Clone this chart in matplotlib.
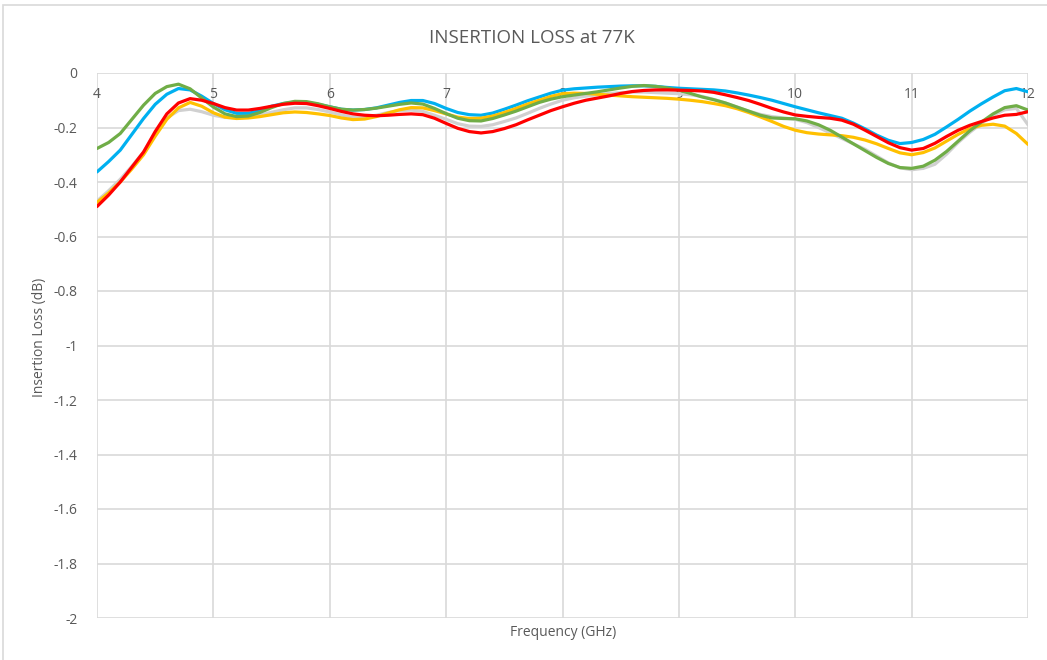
import matplotlib.pyplot as plt
from matplotlib.patches import Rectangle

# frequency points (GHz), 0.1 GHz apart
freq = [4.0, 4.1, 4.2, 4.3, 4.4, 4.5, 4.6, 4.7, 4.8, 4.9,
        5.0, 5.1, 5.2, 5.3, 5.4, 5.5, 5.6, 5.7, 5.8, 5.9,
        6.0, 6.1, 6.2, 6.3, 6.4, 6.5, 6.6, 6.7, 6.8, 6.9,
        7.0, 7.1, 7.2, 7.3, 7.4, 7.5, 7.6, 7.7, 7.8, 7.9,
        8.0, 8.1, 8.2, 8.3, 8.4, 8.5, 8.6, 8.7, 8.8, 8.9,
        9.0, 9.1, 9.2, 9.3, 9.4, 9.5, 9.6, 9.7, 9.8, 9.9,
        10.0, 10.1, 10.2, 10.3, 10.4, 10.5, 10.6, 10.7, 10.8, 10.9,
        11.0, 11.1, 11.2, 11.3, 11.4, 11.5, 11.6, 11.7, 11.8, 11.9, 12.0]

blue = [-0.363, -0.325, -0.283, -0.225, -0.167, -0.115, -0.078, -0.057, -0.062, -0.085,
        -0.112, -0.135, -0.148, -0.148, -0.138, -0.122, -0.112, -0.107, -0.108, -0.115,
        -0.124, -0.133, -0.136, -0.134, -0.128, -0.118, -0.108, -0.101, -0.101, -0.112,
        -0.130, -0.145, -0.153, -0.155, -0.147, -0.133, -0.118, -0.102, -0.088, -0.074,
        -0.063, -0.058, -0.055, -0.052, -0.050, -0.048, -0.047, -0.047, -0.049, -0.053,
        -0.056, -0.058, -0.060, -0.062, -0.066, -0.073, -0.081, -0.090, -0.100, -0.112,
        -0.124, -0.135, -0.146, -0.156, -0.166, -0.184, -0.205, -0.228, -0.247, -0.259,
        -0.255, -0.244, -0.225, -0.198, -0.170, -0.140, -0.113, -0.088, -0.065, -0.057, -0.069]

gray = [-0.470, -0.432, -0.390, -0.342, -0.290, -0.222, -0.165, -0.138, -0.133, -0.142,
        -0.155, -0.163, -0.165, -0.162, -0.155, -0.144, -0.135, -0.128, -0.128, -0.134,
        -0.143, -0.154, -0.162, -0.161, -0.155, -0.145, -0.138, -0.136, -0.141, -0.155,
        -0.170, -0.186, -0.195, -0.196, -0.190, -0.178, -0.165, -0.148, -0.130, -0.114,
        -0.100, -0.091, -0.085, -0.080, -0.075, -0.072, -0.070, -0.070, -0.072, -0.074,
        -0.076, -0.080, -0.086, -0.097, -0.110, -0.125, -0.140, -0.152, -0.160, -0.165,
        -0.170, -0.182, -0.200, -0.220, -0.240, -0.260, -0.280, -0.305, -0.330, -0.348,
        -0.355, -0.350, -0.335, -0.298, -0.255, -0.218, -0.185, -0.155, -0.135, -0.130, -0.190]

yellow = [-0.475, -0.440, -0.400, -0.352, -0.300, -0.232, -0.170, -0.128, -0.108, -0.122,
          -0.146, -0.162, -0.167, -0.165, -0.160, -0.153, -0.146, -0.143, -0.145, -0.150,
          -0.156, -0.165, -0.171, -0.169, -0.160, -0.147, -0.135, -0.127, -0.128, -0.138,
          -0.150, -0.162, -0.167, -0.166, -0.158, -0.145, -0.130, -0.114, -0.100, -0.086,
          -0.076, -0.074, -0.075, -0.078, -0.081, -0.084, -0.087, -0.089, -0.091, -0.093,
          -0.096, -0.100, -0.105, -0.112, -0.120, -0.131, -0.145, -0.161, -0.178, -0.196,
          -0.210, -0.219, -0.224, -0.227, -0.230, -0.236, -0.246, -0.260, -0.277, -0.293,
          -0.300, -0.292, -0.275, -0.250, -0.225, -0.204, -0.192, -0.188, -0.195, -0.222, -0.262]

green = [-0.277, -0.255, -0.222, -0.170, -0.118, -0.075, -0.050, -0.041, -0.058, -0.092,
         -0.125, -0.150, -0.160, -0.158, -0.145, -0.127, -0.112, -0.104, -0.105, -0.113,
         -0.124, -0.133, -0.136, -0.134, -0.129, -0.122, -0.115, -0.110, -0.114, -0.130,
         -0.149, -0.166, -0.175, -0.176, -0.167, -0.154, -0.140, -0.124, -0.108, -0.096,
         -0.087, -0.081, -0.075, -0.069, -0.062, -0.055, -0.049, -0.046, -0.049, -0.055,
         -0.063, -0.075, -0.088, -0.098, -0.110, -0.125, -0.140, -0.155, -0.165, -0.167,
         -0.168, -0.176, -0.190, -0.210, -0.235, -0.260, -0.285, -0.310, -0.332, -0.347,
         -0.350, -0.342, -0.320, -0.288, -0.250, -0.212, -0.180, -0.150, -0.127, -0.120, -0.136]

red = [-0.490, -0.448, -0.400, -0.345, -0.290, -0.215, -0.150, -0.110, -0.094, -0.100,
       -0.112, -0.127, -0.136, -0.136, -0.130, -0.122, -0.115, -0.111, -0.112, -0.120,
       -0.130, -0.141, -0.150, -0.155, -0.157, -0.155, -0.152, -0.150, -0.153, -0.166,
       -0.185, -0.203, -0.215, -0.220, -0.215, -0.204, -0.190, -0.172, -0.155, -0.138,
       -0.124, -0.111, -0.100, -0.092, -0.084, -0.075, -0.068, -0.064, -0.062, -0.062,
       -0.063, -0.064, -0.066, -0.071, -0.080, -0.090, -0.101, -0.115, -0.130, -0.143,
       -0.154, -0.159, -0.163, -0.166, -0.173, -0.188, -0.210, -0.233, -0.256, -0.274,
       -0.283, -0.277, -0.258, -0.233, -0.210, -0.192, -0.178, -0.165, -0.155, -0.152, -0.142]

x_ticks = [4, 5, 6, 7, 8, 9, 10, 11, 12]
y_ticks = [0, -0.2, -0.4, -0.6, -0.8, -1, -1.2, -1.4, -1.6, -1.8, -2]
y_labels = ['0', '-0.2', '-0.4', '-0.6', '-0.8', '-1', '-1.2', '-1.4', '-1.6', '-1.8', '-2']

plt.rcParams['font.family'] = ['Open Sans', 'DejaVu Sans']
txt = '#595959'
grid = '#D9D9D9'

fig = plt.figure(figsize=(10.47, 6.6), dpi=100)
ax = fig.add_axes([97 / 1047, 1 - 618 / 660, (1028 - 97) / 1047, (618 - 73) / 660])

# outer chart border
fig.patches.append(Rectangle((3 / 1047, -0.01), 1.0, 1 - 5 / 660 + 0.01, transform=fig.transFigure,
                             fill=False, edgecolor=grid, linewidth=1.2))

series = [(blue, '#00B0F0'), (gray, '#D0D0D0'), (yellow, '#FFC000'),
          (green, '#70AD47'), (red, '#FF0000')]
for vals, col in series:
    ax.plot(freq, vals, color=col, linewidth=2.3, solid_joinstyle='round', solid_capstyle='round', zorder=3)

ax.set_xlim(4, 12)
ax.set_ylim(-2, 0)
ax.set_xticks(x_ticks)
ax.set_yticks(y_ticks)
ax.set_yticklabels(y_labels)
ax.grid(True, color=grid, linewidth=1.2)
ax.set_axisbelow(True)
for s in ax.spines.values():
    s.set_visible(False)

# x labels sit just under the 0 line, as in Excel
ax.xaxis.tick_top()
ax.tick_params(axis='x', length=0, pad=-21, labelsize=10, labelcolor=txt)
ax.tick_params(axis='y', length=0, pad=14, labelsize=10, labelcolor=txt)
for lab in ax.get_xticklabels():
    lab.set_verticalalignment('bottom')

fig.text(532 / 1047, 1 - 38 / 660, 'INSERTION LOSS at 77K', ha='center', va='center',
         fontsize=13.5, color=txt)
fig.text(563 / 1047, 1 - 632 / 660, 'Frequency (GHz)', ha='center', va='center',
         fontsize=10, color=txt)
fig.text(40 / 1047, 1 - 337 / 660, 'Insertion Loss (dB)', ha='center', va='center',
         fontsize=10, color=txt, rotation=90)

fig.savefig('out.png', dpi=100, facecolor='white')
